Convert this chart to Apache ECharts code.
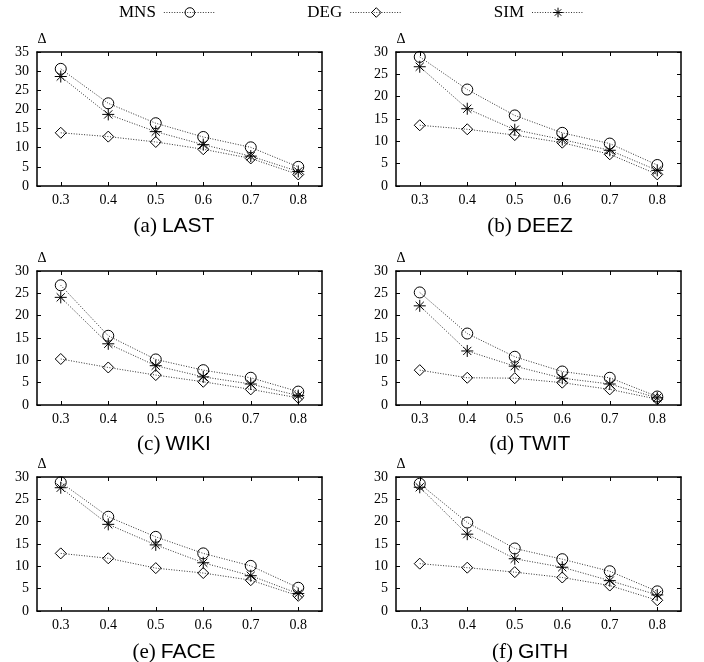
<!DOCTYPE html>
<html><head><meta charset="utf-8">
<script src="https://cdn.jsdelivr.net/npm/echarts@6/dist/echarts.min.js"></script>
<style>html,body{margin:0;padding:0;background:#fff}#c{width:704px;height:662px}</style>
</head><body><div id="c"></div>
<script>
const thresholds = ['0.3','0.4','0.5','0.6','0.7','0.8'];
const panelLabels = ['(a)','(b)','(c)','(d)','(e)','(f)'];
const datasetNames = ['LAST','DEEZ','WIKI','TWIT','FACE','GITH'];
const seriesNames = ['MNS','DEG','SIM'];
const yMax = [35,30,30,30,30,30];
const yTicks = [0,5,10,15,20,25,30,35];

const mnsLAST = [30.6, 21.6, 16.4, 12.8, 10.1, 5.0];
const degLAST = [13.9, 12.9, 11.5, 9.6, 7.2, 3.0];
const simLAST = [28.6, 18.7, 14.2, 10.8, 7.8, 3.8];

const mnsDEEZ = [28.9, 21.6, 15.8, 11.9, 9.5, 4.7];
const degDEEZ = [13.6, 12.7, 11.4, 9.7, 7.1, 2.6];
const simDEEZ = [26.7, 17.3, 12.6, 10.4, 8.0, 3.5];

const mnsWIKI = [26.8, 15.5, 10.2, 7.8, 6.1, 3.0];
const degWIKI = [10.3, 8.4, 6.7, 5.2, 3.5, 1.6];
const simWIKI = [24.1, 13.7, 8.8, 6.3, 4.7, 2.1];

const mnsTWIT = [25.2, 16.0, 10.8, 7.5, 6.1, 1.9];
const degTWIT = [7.8, 6.1, 6.0, 5.0, 3.5, 1.3];
const simTWIT = [22.2, 12.1, 8.7, 6.0, 4.7, 1.6];

const mnsFACE = [28.8, 21.1, 16.6, 12.9, 10.1, 5.2];
const degFACE = [12.9, 11.8, 9.6, 8.5, 6.9, 3.4];
const simFACE = [27.6, 19.4, 14.8, 10.8, 7.9, 3.9];

const mnsGITH = [28.5, 19.8, 14.0, 11.6, 8.9, 4.4];
const degGITH = [10.6, 9.7, 8.7, 7.5, 5.7, 2.4];
const simGITH = [27.7, 17.2, 11.7, 9.8, 6.8, 3.6];

const panelData = [
  [mnsLAST, degLAST, simLAST],
  [mnsDEEZ, degDEEZ, simDEEZ],
  [mnsWIKI, degWIKI, simWIKI],
  [mnsTWIT, degTWIT, simTWIT],
  [mnsFACE, degFACE, simFACE],
  [mnsGITH, degGITH, simGITH]
];

// layout
const colLeft = [37, 396];
const rowTop = [52, 271, 477];
const gw = 285, gh = 134;
const captionX = [169, 525];
const captionY = [223, 441, 649];

const SERIF = 'Liberation Serif';
const SANS = 'Liberation Sans';
const star = 'path://M0,5L10,5M5,0L5,10M1.6,1.6L8.4,8.4M8.4,1.6L1.6,8.4';
const symbols = ['circle', 'diamond', star];
const symSizes = [11, 11, 12];

const grids = [], xAxes = [], yAxes = [], series = [], titles = [], graphics = [];
for (let p = 0; p < 6; p++) {
  const c = p % 2, r = Math.floor(p / 2);
  grids.push({left: colLeft[c], top: rowTop[r], width: gw, height: gh, containLabel: false});
  const axisLine = {show: true, onZero: false, lineStyle: {color: '#000', width: 1.5}};
  const tick = {show: true, inside: true, length: 4, lineStyle: {color: '#000'}};
  xAxes.push({
    type: 'category', gridIndex: p, data: thresholds, position: 'bottom', boundaryGap: true,
    axisLine, axisTick: Object.assign({alignWithLabel: true}, tick),
    axisLabel: {fontFamily: SERIF, fontSize: 14, color: '#000', margin: 7},
    splitLine: {show: false}
  });
  xAxes.push({
    type: 'category', gridIndex: p, data: thresholds, position: 'top', boundaryGap: true,
    axisLine, axisTick: Object.assign({alignWithLabel: true}, tick),
    axisLabel: {show: false}, splitLine: {show: false}
  });
  const yl = {
    type: 'value', gridIndex: p, min: 0, max: yMax[p], interval: yTicks[1] - yTicks[0],
    axisLine, axisTick: tick, splitLine: {show: false}
  };
  yAxes.push(Object.assign({}, yl, {position: 'left',
    axisLabel: {fontFamily: SERIF, fontSize: 14, color: '#000', margin: 8}}));
  yAxes.push(Object.assign({}, yl, {position: 'right', axisLabel: {show: false}}));
  for (let s = 0; s < 3; s++) {
    series.push({
      name: seriesNames[s], type: 'line', xAxisIndex: 2 * p, yAxisIndex: 2 * p,
      data: panelData[p][s], symbol: symbols[s], symbolSize: symSizes[s], showAllSymbol: true,
      lineStyle: {color: '#333', width: 1, type: [1, 1.6]},
      itemStyle: {color: 'rgba(0,0,0,0)', borderColor: '#000', borderWidth: 1},
      emphasis: {disabled: true}, z: 3
    });
  }
  titles.push({
    text: '{p|' + panelLabels[p] + '} {n|' + datasetNames[p] + '}',
    left: captionX[c], top: captionY[r] - 12, textAlign: 'center',
    textStyle: {fontWeight: 'normal', rich: {
      p: {fontFamily: SERIF, fontSize: 21, fontWeight: 'normal', color: '#000'},
      n: {fontFamily: SANS, fontSize: 21, fontWeight: 'normal', color: '#000'}
    }}
  });
  graphics.push({
    type: 'text', x: colLeft[c] + 5, y: rowTop[r] - 13,
    style: {text: 'Δ', font: '14px "Liberation Serif"', fill: '#000', align: 'center', verticalAlign: 'middle'}
  });
}

const chart = echarts.init(document.getElementById('c'), null, {renderer: 'canvas'});
chart.setOption({
  animation: false,
  backgroundColor: '#fff',
  title: titles,
  legend: {
    data: seriesNames, left: 114, top: -1, align: 'right', itemWidth: 52, itemHeight: 12, itemGap: 91,
    itemStyle: {color: 'rgba(0,0,0,0)', borderColor: '#000', borderWidth: 1},
    lineStyle: {color: '#333', width: 1, type: [1, 1.6]},
    textStyle: {fontFamily: SERIF, fontSize: 17, color: '#000', padding: [0, 3, 0, 0]},
    selectedMode: false
  },
  grid: grids,
  xAxis: xAxes,
  yAxis: yAxes,
  series: series,
  graphic: graphics
});
</script></body></html>
